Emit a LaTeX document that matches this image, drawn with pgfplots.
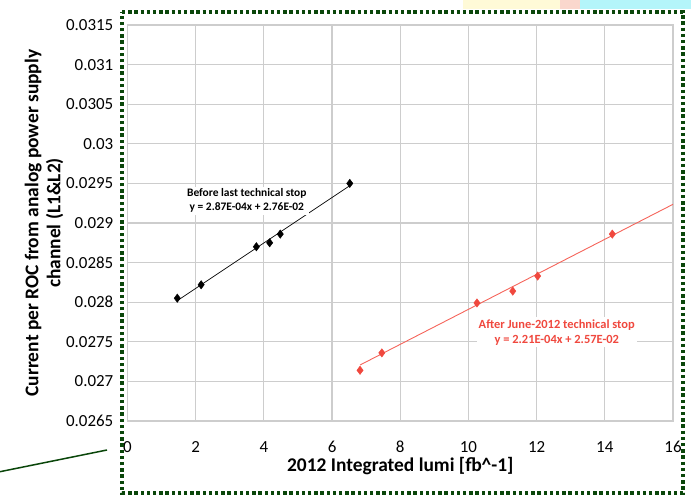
\documentclass[border=0pt]{standalone}
\usepackage{pgfplots}
\pgfplotsset{compat=1.18}
\usepackage{fontspec}
\setmainfont{Carlito}
\definecolor{frameg}{RGB}{10,70,10}
\definecolor{gridg}{RGB}{205,205,205}
\definecolor{redm}{RGB}{240,72,62}
\definecolor{redl}{RGB}{245,100,90}
\definecolor{lyel}{RGB}{255,250,215}
\definecolor{lcyan}{RGB}{180,245,250}
\definecolor{lpink}{RGB}{250,215,205}
\begin{document}
\begin{tikzpicture}[x=1bp,y=1bp]
\path[use as bounding box] (0,0) rectangle (691,496);
% background decorations
\fill[lyel] (463,487) rectangle (560,496);
\fill[lpink] (560,487) rectangle (580,496);
\fill[lcyan] (580,487) rectangle (691,496);
\draw[frameg, line width=1.5bp] (0,24.3) -- (107,46);
\begin{axis}[
  at={(127.5bp,75bp)}, anchor=south west,
  scale only axis, width=545.5bp, height=396bp,
  xmin=0, xmax=16, ymin=0.0265, ymax=0.0315,
  xtick={0,2,4,6,8,10,12,14,16},
  ytick={0.0265,0.027,0.0275,0.028,0.0285,0.029,0.0295,0.03,0.0305,0.031,0.0315},
  yticklabels={0.0265,0.027,0.0275,0.028,0.0285,0.029,0.0295,0.03,0.0305,0.031,0.0315},
  scaled ticks=false,
  /pgf/number format/assume math mode=true,
  major tick length=0pt,
  grid=major,
  major grid style={gridg, line width=1.2bp},
  axis line style={gridg, line width=1.2bp},
  tick label style={font=\fontsize{17}{20}\selectfont, inner sep=0pt},
  yticklabel style={anchor=east, xshift=-14bp},
  xticklabel style={anchor=base, yshift=-32bp},
  xlabel={\bfseries 2012 Integrated lumi [fb\textasciicircum-1]},
  ylabel={\bfseries Current per ROC from analog power supply\\ \bfseries channel (L1\&L2)},
  label style={font=\fontsize{19.5}{22}\selectfont},
  xlabel style={at={(axis description cs:0.5,-0.113)}, anchor=center},
  ylabel style={at={(axis description cs:-0.153,0.5)}, anchor=center, align=center},
  clip=false,
]
% trend lines
\addplot[black, line width=0.7bp, forget plot] coordinates {(1.46,0.028019) (6.52,0.029471)};
\addplot[redl, line width=0.9bp, forget plot] coordinates {(6.82,0.027207) (16,0.029236)};
% labels with white boxes
\node[fill=white, align=center, inner sep=2bp, font=\fontsize{11.5}{14}\selectfont\bfseries] at (axis cs:3.50,0.02928) {Before last technical stop\\y = 2.87E-04x + 2.76E-02};
\node[fill=white, align=center, inner sep=2bp, text=redm, font=\fontsize{12.5}{15}\selectfont\bfseries] at (axis cs:12.59,0.02762) {After June-2012 technical stop\\y = 2.21E-04x + 2.57E-02};
% data
\addplot[only marks, mark=diamond*, mark size=4.2bp, black] coordinates {
(1.46,0.02805) (2.16,0.02822) (3.78,0.02870) (4.17,0.02875) (4.48,0.02886) (6.52,0.02950)};
\addplot[only marks, mark=diamond*, mark size=4.2bp, color=redm] coordinates {
(6.82,0.02714) (7.46,0.02736) (10.25,0.02799) (11.30,0.02814) (12.03,0.02833) (14.22,0.02886)};
\end{axis}
% dotted frame
\draw[frameg, line width=3.4bp, dash pattern=on 3.4bp off 2.8bp] (122,484) -- (683,484) -- (683,3) -- (122,3) -- cycle;
\end{tikzpicture}
\end{document}
